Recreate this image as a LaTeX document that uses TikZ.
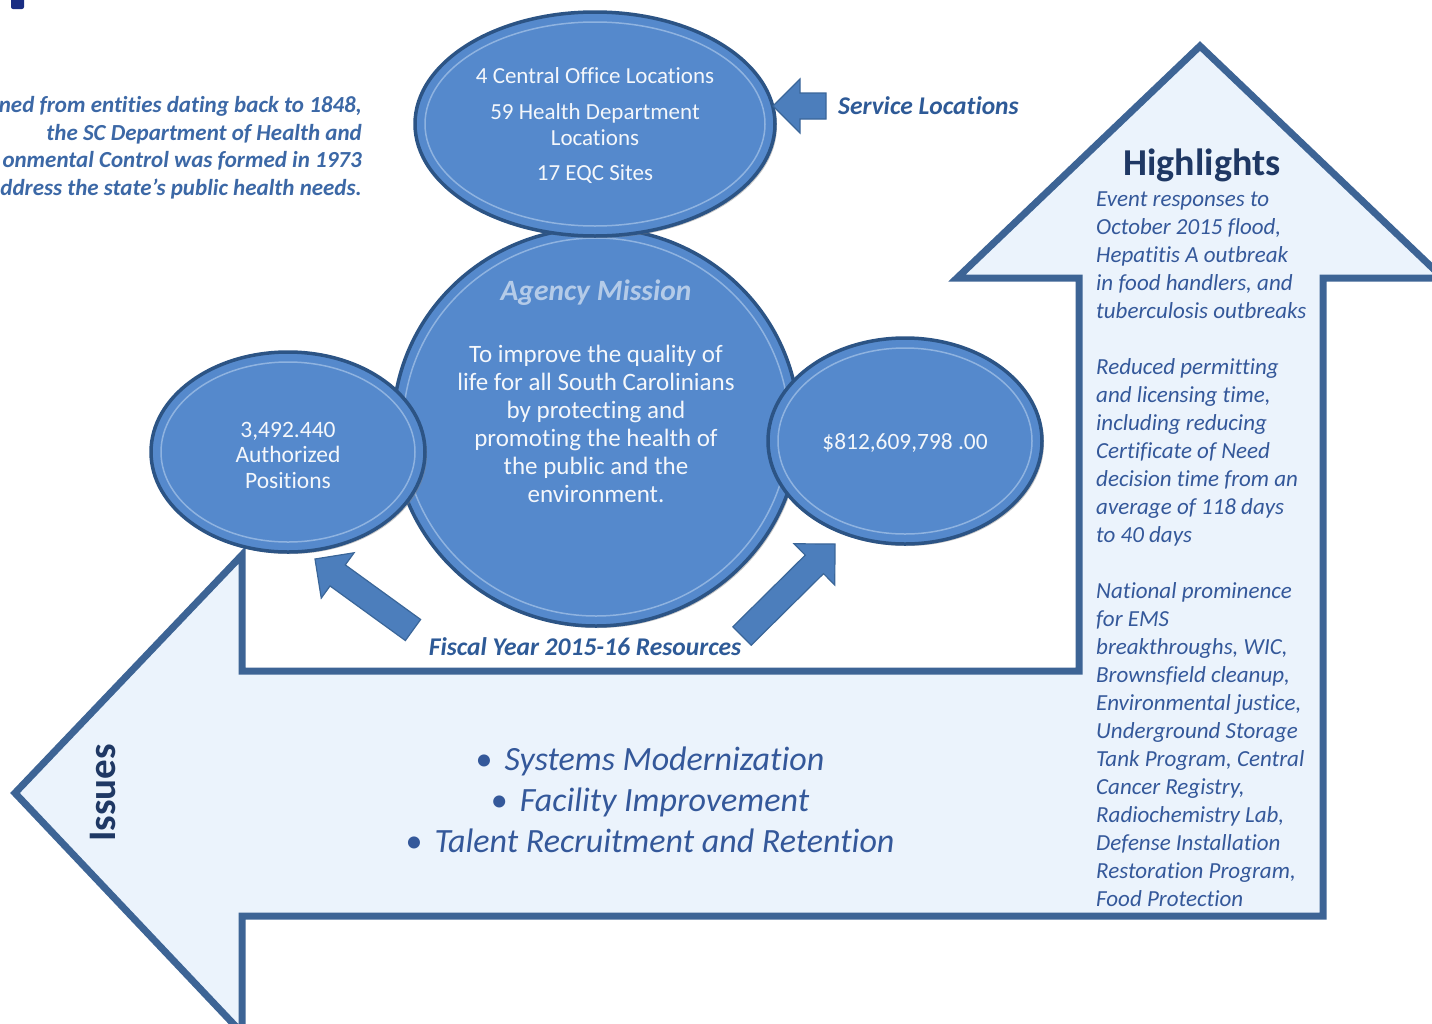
\documentclass[tikz,border=0pt]{standalone}
\usepackage{fontspec}
\setmainfont[Ligatures=NoCommon]{Carlito}
\usepackage{xcolor}
\usetikzlibrary{shapes.geometric,calc,shadows}

\definecolor{shapefill}{HTML}{EBF3FC}
\definecolor{shapeline}{HTML}{3D6495}
\definecolor{ovalfill}{HTML}{5589CC}
\definecolor{ovalline}{HTML}{2C5485}
\definecolor{ovalring}{HTML}{8FB3E0}
\definecolor{ovaltext}{HTML}{F4F7FB}
\definecolor{arrowfill}{HTML}{4C7EBC}
\definecolor{arrowline}{HTML}{3A6699}
\definecolor{capblue}{HTML}{2E5A97}
\definecolor{introblue}{HTML}{3C68A6}
\definecolor{navy}{HTML}{1F3864}
\definecolor{hlblue}{HTML}{34589A}
\definecolor{missiontitle}{HTML}{B4CBE8}

% block arrow from tail #1 to tip #2: shaft half width, head half width, head length
\newcommand{\blockarrow}[5]{%
  \coordinate (h) at ($(#2)!#5!(#1)$);
  \draw[smallarrow] ($(#1)!#3!90:(#2)$) -- ($(h)!#3!-90:(#1)$) -- ($(h)!#4!-90:(#1)$)
    -- (#2) -- ($(h)!#4!90:(#1)$) -- ($(h)!#3!90:(#1)$) -- ($(#1)!#3!-90:(#2)$) -- cycle;
}

\begin{document}
\begin{tikzpicture}[x=1pt,y=-1pt]
        \tikzstyle{bigshape} = [draw=shapeline, line width=7pt, fill=shapefill, line join=miter]
        \tikzstyle{oval} = [ellipse, draw=ovalline, line width=3.5pt, fill=ovalfill, inner sep=0pt,
                drop shadow={opacity=0.45, shadow xshift=2pt, shadow yshift=-2pt}]
        \tikzstyle{ovalrim} = [draw=ovalring, line width=1.5pt]
        \tikzstyle{ovaltxt} = [text=ovaltext, align=center, inner sep=0pt]
        \tikzstyle{smallarrow} = [draw=arrowline, line width=1.2pt, fill=arrowfill, line join=miter]
        \tikzstyle{caption} = [text=capblue, font=\fontsize{25.5}{28}\selectfont\bfseries\itshape, inner sep=0pt]

        \useasboundingbox (0,0) rectangle (1432,1023);

        % bent double arrow
        \draw[bigshape] (15,793) -- (242,555) -- (242,671) -- (1079,671) -- (1079,278)
                -- (957,278) -- (1200,46) -- (1443,278) -- (1323,278) -- (1323,916)
                -- (242,916) -- (242,1033) -- cycle;

        \fill[navy!80!blue, rounded corners=2pt] (11,-4) rectangle (24,9);

        % circles
        \foreach \n/\cx/\cy/\rx/\ry in {mission/596/427/203/199, places/595/124/180/112,
                staff/288/452/137/100, budget/905/441/137/103}
        {
                \node[oval, minimum width=2*\rx pt, minimum height=2*\ry pt] (\n) at (\cx,\cy) {};
                \draw[ovalrim] (\n.center) ellipse [x radius=\rx-10, y radius=\ry-10];
        }

        % small arrows
        \coordinate (svctail) at (826,106);
        \coordinate (svctip) at (773,106);
        \blockarrow{svctail}{svctip}{13pt}{27pt}{27pt}
        \coordinate (lefttail) at (413,630);
        \coordinate (lefttip) at (315,559);
        \blockarrow{lefttail}{lefttip}{13pt}{28pt}{28pt}
        \coordinate (righttail) at (742,636);
        \coordinate (righttip) at (835,544);
        \blockarrow{righttail}{righttip}{13pt}{29pt}{29pt}

        % texts
        \node[ovaltxt, font=\fontsize{23}{26}\selectfont] (placestxt) at (595,126)
                {4 Central Office Locations\\[10pt]59 Health Department\\Locations\\[9pt]17 EQC Sites};
        \node[inner sep=0pt, text=missiontitle, font=\fontsize{29.5}{32}\selectfont\bfseries\itshape]
                (missionhead) at (596,293) {Agency Mission};
        \node[ovaltxt, font=\fontsize{25}{28}\selectfont] (missiontxt) at (596,424)
                {To improve the quality of\\life for all South Carolinians\\by protecting and\\promoting the health of\\the public and the\\environment.};
        \node[ovaltxt, font=\fontsize{23.5}{25.5}\selectfont] (stafftxt) at (288,455)
                {3,492.440\\Authorized\\Positions};
        \node[ovaltxt, font=\fontsize{23.4}{25}\selectfont] (budgettxt) at (905,443)
                {\$812,609,798 .00};

        \node[caption, anchor=west] (svclabel) at (838,106) {Service Locations};
        \node[caption] (fiscal) at (585,647) {Fiscal Year 2015-16 Resources};

        \node[anchor=north east, align=right, inner sep=0pt, text=introblue,
                font=\fontsize{23}{27.7}\selectfont\bfseries\itshape] (intro) at (362,96)
                {ned from entities dating back to 1848,\\the SC Department of Health and\\onmental Control was formed in 1973\\ddress the state’s public health needs.};

        \node[inner sep=0pt, text=navy, font=\fontsize{38}{42}\selectfont\bfseries] (hltitle) at (1202,165) {Highlights};
        \node[anchor=north west, align=left, inner sep=0pt, text=hlblue,
                font=\fontsize{23}{28}\selectfont\itshape] (hltxt) at (1096,191.5)
                {Event responses to\\October 2015 flood,\\Hepatitis A outbreak\\in food handlers, and\\tuberculosis outbreaks\\[28pt]
                Reduced permitting\\and licensing time,\\including reducing\\Certificate of Need\\decision time from an\\average of 118 days\\to 40 days\\[28pt]
                National prominence\\for EMS\\breakthroughs, WIC,\\Brownsfield cleanup,\\Environmental justice,\\Underground Storage\\Tank Program, Central\\Cancer Registry,\\Radiochemistry Lab,\\Defense Installation\\Restoration Program,\\Food Protection};

        \node[inner sep=0pt, rotate=90, text=navy, font=\fontsize{39}{42}\selectfont\bfseries] (issues) at (103,793) {Issues};
        \node[align=center, inner sep=0pt, text=hlblue, font=\fontsize{34}{41}\selectfont\itshape] (issuelist) at (650,800)
                {{\upshape•}\hspace{12pt}Systems Modernization\\{\upshape•}\hspace{12pt}Facility Improvement\\{\upshape•}\hspace{12pt}Talent Recruitment and Retention};
\end{tikzpicture}
\end{document}
